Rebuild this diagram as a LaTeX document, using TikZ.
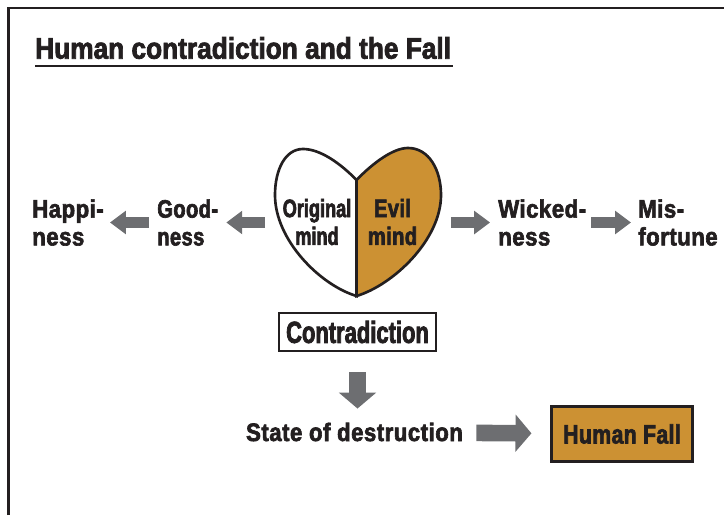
\documentclass[tikz,border=0pt]{standalone}
\usepackage{fontspec}
\newfontfamily\titlefont[FakeStretch=0.88,FakeBold=2.5]{Liberation Sans Bold}
\newfontfamily\labelfont[FakeStretch=0.88,LetterSpace=2,FakeBold=2.5]{Liberation Sans Bold}
\newfontfamily\midfont[FakeStretch=0.8,LetterSpace=1.5,FakeBold=2.5]{Liberation Sans Bold}
\newfontfamily\slimfont[FakeStretch=0.72,FakeBold=2.5]{Liberation Sans Bold}
\usetikzlibrary{arrows.meta}
\definecolor{ochre}{HTML}{CC9133}
\definecolor{arrowgray}{HTML}{6D6E71}
\definecolor{inkblack}{HTML}{231F20}
\tikzset{
    wordlabel/.style={inner sep=0pt, text=inkblack, align=left, font=\labelfont\fontsize{19}{21}\selectfont},
    bigarrow/.style={draw=arrowgray, line width=12.5pt, -{Triangle[length=12pt,width=27.5pt]}},
    smallarrow/.style={draw=arrowgray, line width=9pt, -{Triangle[length=12pt,width=17pt]}}
}

\begin{document}
\begin{tikzpicture}[x=0.0265cm, y=-0.0265cm]
        \useasboundingbox (0, 0) rectangle (724, 515);
        \draw [inkblack, line width=2pt] (8.5, 515) -- (8.5, 8) -- (724, 8);
        \node (title) at (35, 48) [wordlabel, anchor=west, font=\titlefont\fontsize{22.5}{25}\selectfont] {Human contradiction and the Fall};
        \coordinate (ruleleft) at (35, 66);
        \coordinate (ruleright) at (453, 66);
        \draw [inkblack, line width=1.5pt] (ruleleft) -- (ruleright);
        \draw [fill=white, draw=inkblack, line width=2pt] (356.5, 180) .. controls (340, 163) and (320, 149) .. (303, 149) .. controls (285, 149) and (275, 170) .. (275, 195) .. controls (275, 240) and (320, 285) .. (356.5, 296) -- cycle;
        \draw [fill=ochre, draw=inkblack, line width=2pt] (356.5, 180) .. controls (373, 163) and (393, 148) .. (408, 148) .. controls (429, 148) and (441, 170) .. (441, 195) .. controls (441, 240) and (393, 285) .. (356.5, 296) -- cycle;
        \coordinate (heartleft) at (275, 222.5);
        \coordinate (heartright) at (441, 222.5);
        \node (original) at (317, 222) [wordlabel, align=center, font=\slimfont\fontsize{19}{21}\selectfont] {Original\\mind};
        \node (evil) at (392.5, 222) [wordlabel, align=center, font=\midfont\fontsize{19}{21}\selectfont] {Evil\\mind};
        \node (good) at (157, 222.5) [wordlabel, anchor=west, font=\midfont\fontsize{19}{21}\selectfont] {Good-\\ness};
        \node (happy) at (32, 222.5) [wordlabel, anchor=west] {Happi-\\ness};
        \node (wicked) at (498, 222.5) [wordlabel, anchor=west] {Wicked-\\ness};
        \node (misfortune) at (638, 222.5) [wordlabel, anchor=west] {Mis-\\fortune};
        \node (contradiction) at (357.5, 332) [wordlabel, draw=inkblack, line width=1.5pt, fill=white, minimum width=118pt, minimum height=29.3pt, font=\slimfont\fontsize{23}{25}\selectfont] {Contradiction};
        \node (destruction) at (354.5, 432) [wordlabel] {State of destruction};
        \node (fall) at (622, 434) [wordlabel, draw=inkblack, line width=2pt, fill=ochre, minimum width=106pt, minimum height=41.3pt, font=\midfont\fontsize{20}{23}\selectfont] {Human Fall};
        \draw [smallarrow, shorten <=7.5pt, shorten >=6pt] (heartleft) -- (good);
        \draw [smallarrow, shorten <=6pt, shorten >=4.5pt] (good) -- (happy);
        \draw [smallarrow, shorten <=7.5pt, shorten >=6pt] (heartright) -- (wicked);
        \draw [smallarrow, shorten <=3.75pt, shorten >=5.3pt] (wicked) -- (misfortune);
        \draw [bigarrow, shorten <=10pt, shorten >=14.3pt] (destruction) -- (fall);
        \draw [bigarrow, shorten <=15pt, shorten >=10.5pt] (contradiction) -- (contradiction |- destruction.north);
    \end{tikzpicture}
\end{document}
